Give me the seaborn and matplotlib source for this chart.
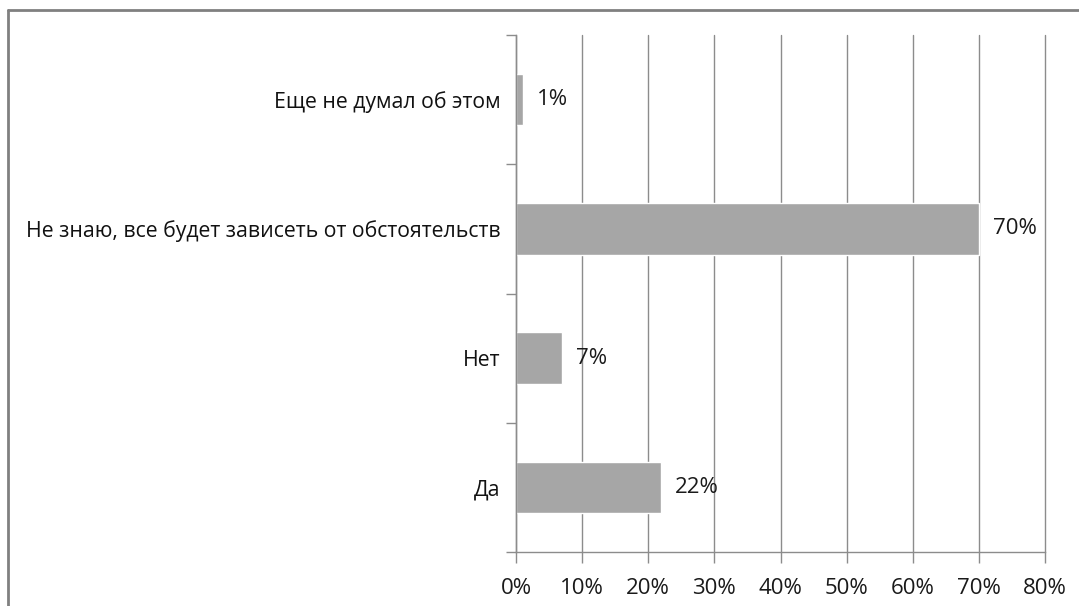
import numpy as np
import matplotlib.pyplot as plt
import matplotlib.lines as mlines
import seaborn as sns
import pandas as pd

sns.set_theme(style='white')
plt.rcParams['font.family'] = ['Open Sans', 'DejaVu Sans']

categories = ["Еще не думал об этом", "Не знаю, все будет зависеть от обстоятельств", "Нет", "Да"]
values = [1, 70, 7, 22]
xticks = [0, 10, 20, 30, 40, 50, 60, 70, 80]

df = pd.DataFrame({"answer": categories, "share": values})

grid_c = '#8c8c8c'
fig = plt.figure(figsize=(10.79, 6.06), dpi=100)
ax = fig.add_axes([516/1079, 1-552/606, (1045-516)/1079, (552-35)/606])
sns.barplot(data=df, x="share", y="answer", color='#a6a6a6', saturation=1, width=0.4, ax=ax, order=categories)

ax.set(xlim=(0, 80), ylim=(3.5, -0.5), xlabel=None, ylabel=None)
ax.set_xticks(xticks)
ax.set_xticklabels(["%d%%" % t for t in xticks], fontsize=16, color='#1a1a1a')
ax.set_yticks(range(len(categories)))
ax.set_yticklabels(categories, fontsize=15.3, color='#111111')
ax.set_yticks(np.arange(-0.5, len(categories)), minor=True)
ax.tick_params(axis='y', which='major', length=0, pad=11)
ax.tick_params(axis='y', which='minor', length=7, width=1, color=grid_c, left=True)
ax.tick_params(axis='x', which='major', length=8, width=1, color=grid_c, bottom=True, pad=11)
ax.grid(True, axis='x', color=grid_c, linewidth=1)
for gl in ax.get_xgridlines():
    gl.set_clip_on(False)
ax.set_axisbelow(True)
for s in ['top', 'right']:
    ax.spines[s].set_visible(False)
for s in ['left', 'bottom']:
    ax.spines[s].set_color(grid_c)
    ax.spines[s].set_linewidth(1)

for i, v in enumerate(values):
    ax.text(v + 2.1, i, "%d%%" % v, va='center', ha='left', fontsize=16, color='#1a1a1a')

# outer frame (cropped at right/bottom)
fig.add_artist(mlines.Line2D([8/1079, 8/1079], [0, 1-10/606], color='#808080', linewidth=2))
fig.add_artist(mlines.Line2D([8/1079, 1], [1-10/606, 1-10/606], color='#808080', linewidth=2))

fig.savefig("out.png", dpi=100)
